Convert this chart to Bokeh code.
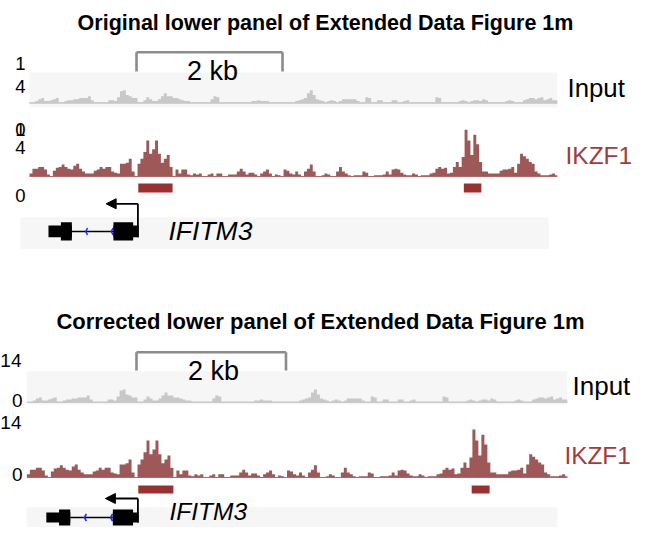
import numpy as np
from bokeh.plotting import figure
from bokeh.models import Range1d, Label, Arrow, NormalHead
from bokeh.embed import file_html
from bokeh.resources import INLINE

# ---------------- data (kb from left edge of the locus) ----------------
BIN_KB = 0.04
LOCUS_KB = 7.23

input_signal = [
    0.3, 0.3, 0.7, 1.3, 1.7, 0.7, 0.7, 1.0, 1.3, 1.7,
    0.3, 0.3, 0.7, 1.0, 1.0, 1.3, 1.3, 1.7, 1.7, 1.7,
    2.3, 1.0, 0.3, 0.3, 0.3, 0.3, 0.3, 1.0, 1.0, 0.7,
    2.0, 4.0, 4.3, 2.7, 2.3, 1.7, 1.7, 0.3, 0.3, 1.0,
    2.0, 1.3, 0.7, 0.7, 1.3, 2.3, 3.3, 2.3, 2.3, 1.7,
    1.7, 1.3, 1.0, 0.7, 0.7, 0.3, 0.3, 0.3, 0.3, 0.3,
    0.3, 0.3, 1.3, 2.3, 2.0, 0.3, 0.3, 0.3, 0.3, 0.3,
    0.3, 0.3, 0.3, 0.3, 0.3, 0.3, 0.7, 0.7, 1.0, 0.7,
    0.7, 0.7, 0.3, 0.3, 0.3, 0.3, 0.3, 0.3, 0.3, 0.3,
    0.3, 0.7, 1.0, 1.3, 1.7, 3.3, 4.3, 2.7, 1.3, 1.0,
    0.7, 0.3, 0.7, 1.0, 0.7, 0.3, 0.7, 1.3, 1.3, 1.3,
    1.3, 1.3, 0.7, 0.3, 0.3, 2.0, 1.7, 0.3, 0.3, 1.0,
    1.0, 0.3, 0.3, 0.3, 1.0, 1.0, 0.3, 0.3, 0.7, 1.0,
    0.3, 0.3, 0.3, 0.3, 0.3, 0.3, 0.3, 0.3, 0.3, 2.0,
    1.7, 0.3, 0.3, 0.3, 0.3, 0.3, 0.3, 0.7, 1.0, 0.7,
    0.3, 0.7, 1.0, 1.0, 0.7, 1.3, 1.0, 0.3, 0.3, 0.3,
    0.3, 0.3, 0.3, 0.7, 1.0, 0.7, 0.3, 0.3, 0.3, 1.0,
    1.3, 1.7, 1.7, 1.3, 1.7, 2.0, 1.0, 1.3, 1.7, 1.0, 1.0,
]

ikzf1_signal = [
    0.8, 2.0, 2.0, 2.5, 2.5, 1.8, 0.5, 0.0, 1.5, 2.3,
    2.5, 3.1, 2.5, 2.0, 1.8, 2.8, 3.3, 2.0, 1.3, 0.8,
    0.8, 0.8, 1.5, 1.8, 2.5, 2.0, 2.5, 2.5, 1.3, 1.0,
    0.8, 3.3, 3.3, 3.6, 4.6, 1.3, 0.0, 3.3, 4.6, 6.4,
    9.4, 5.9, 7.1, 9.4, 5.9, 3.6, 4.6, 5.6, 2.5, 0.0,
    1.8, 0.8, 1.8, 1.8, 0.5, 0.3, 0.8, 0.5, 0.8, 0.0,
    0.0, 0.5, 0.8, 0.0, 0.8, 0.8, 0.0, 0.0, 0.5, 0.5,
    0.5, 1.3, 2.0, 1.3, 0.5, 1.0, 1.0, 0.5, 0.0, 0.8,
    1.3, 1.8, 0.8, 0.0, 0.5, 0.3, 0.0, 1.8, 1.5, 0.8,
    0.5, 1.3, 0.5, 0.0, 1.3, 2.0, 3.1, 1.3, 0.0, 0.0,
    0.3, 0.8, 0.5, 0.0, 0.0, 1.3, 2.5, 1.3, 0.8, 0.3,
    0.0, 0.3, 0.3, 0.3, 1.3, 1.0, 0.0, 0.0, 0.3, 0.3,
    0.3, 0.5, 1.3, 0.5, 1.8, 2.0, 1.8, 1.0, 0.5, 0.3,
    0.3, 0.8, 0.5, 0.0, 0.3, 0.3, 0.3, 0.8, 1.0, 2.0,
    2.5, 2.0, 2.3, 0.8, 1.0, 2.5, 3.8, 2.5, 5.1, 12.2,
    9.4, 5.6, 10.9, 8.4, 3.8, 1.3, 1.3, 0.8, 0.8, 0.8,
    0.8, 1.5, 1.8, 1.8, 2.0, 2.5, 1.0, 3.3, 5.9, 5.3,
    4.6, 3.8, 3.3, 1.3, 0.8, 0.3, 0.3, 0.3, 0.5, 0.8, 0.3,
]

peak_start_kb = [1.49, 5.95]
peak_end_kb = [1.96, 6.19]

# IFITM3 (minus strand)
exon_start_kb = [0.26, 1.15]
exon_end_kb = [0.58, 1.495]
cds_start_kb = 0.43
cds_end_kb = 1.42
tss_kb = 1.485
arrow_tip_kb = 1.05
chevron_kb = [0.77, 1.12]

scalebar_kb = (1.466, 3.466)
scalebar_label = "2 kb"
track_names = ["Input", "IKZF1"]
gene_name = "IFITM3"
panel_titles = ["Original lower panel of Extended Data Figure 1m",
                "Corrected lower panel of Extended Data Figure 1m"]
orig_tick_labels = ["1", "4", "0", "1", "4", "0"]
corr_tick_labels = ["14", "0", "14", "0"]

# ---------------- layout (picture pixels) ----------------
FIG_W, FIG_H = 633, 527
FONT = "Liberation Sans"

panels = [
    dict(title=panel_titles[0], title_x=325, title_y=22, x0=29.0, pxkb=73.0,
         scale_y=51.7, scale_tick=71, kb_label=(212, 70),
         in_bg=(72, 107), in_base=102.7, in_k=3.0,
         ik_base=176.0, ik_k=3.84, peak_y=(183, 192),
         gene_bg_x=(20, 548), gene_bg_y=(217, 248.5),
         exon_y=(221.7, 240), utr_y=(225, 236.7), line_y=231, arrow_y=203.3,
         input_label=(567, 87, 25.8), ik_label=(565, 155, 24.5),
         gene_label=(168, 230, 26.5),
         ticks=orig_tick_labels,
         tick_pos=[(25, 63), (25, 86), (25, 129), (25, 129), (25, 147), (25, 195)],
         tick_fs=18.5, title_fs=21.5),
    dict(title=panel_titles[1], title_x=320, title_y=321, x0=26.4, pxkb=74.75,
         scale_y=351.7, scale_tick=370, kb_label=(213, 370),
         in_bg=(371, 404), in_base=402.0, in_k=3.0,
         ik_base=477.0, ik_k=3.93, peak_y=(485, 493),
         gene_bg_x=(26, 557), gene_bg_y=(507, 528),
         exon_y=(509, 525), utr_y=(512, 522), line_y=517, arrow_y=498,
         input_label=(572, 385, 26.0), ik_label=(564, 455, 24.3),
         gene_label=(169, 511, 24.5),
         ticks=corr_tick_labels, tick_pos=[(21, 360), (22, 400), (21, 422), (22, 474)],
         tick_fs=19, title_fs=22),
]

p = figure(width=FIG_W, height=FIG_H, output_backend="svg", toolbar_location=None,
           x_range=Range1d(0, FIG_W), y_range=Range1d(FIG_H, 0),
           x_axis_type=None, y_axis_type=None, min_border=0)
p.outline_line_color = None
p.grid.visible = False
p.background_fill_color = "white"


def fs(px):
    return f"{px:.1f}px"


def step_xy(vals):
    edges = np.minimum(np.arange(len(vals) + 1) * BIN_KB, LOCUS_KB)
    xs, ys = [0.0], [0.0]
    for i, v in enumerate(vals):
        xs += [edges[i], edges[i + 1]]
        ys += [v, v]
    xs.append(edges[-1])
    ys.append(0.0)
    return xs, ys


def label(x, y, text, size, align="left", color="black", style="normal"):
    p.add_layout(Label(x=x, y=y, text=text, text_align=align, text_baseline="middle",
                       text_font=FONT, text_font_style=style, text_font_size=fs(size),
                       text_color=color))


for n, P in enumerate(panels):
    xr = f"kb{n}"
    p.extra_x_ranges[xr] = Range1d(-P["x0"] / P["pxkb"], (FIG_W - P["x0"]) / P["pxkb"])
    yin, yik = f"in{n}", f"ik{n}"
    p.extra_y_ranges[yin] = Range1d((P["in_base"] - FIG_H) / P["in_k"], P["in_base"] / P["in_k"])
    p.extra_y_ranges[yik] = Range1d((P["ik_base"] - FIG_H) / P["ik_k"], P["ik_base"] / P["ik_k"])

    # title
    label(P["title_x"], P["title_y"], P["title"], P["title_fs"], align="center", style="bold")

    # scale bar
    sx0, sx1 = scalebar_kb
    p.segment(x0=[sx0, sx0, sx1], y0=[P["scale_y"]] * 3, x1=[sx1, sx0, sx1],
              y1=[P["scale_y"], P["scale_tick"], P["scale_tick"]],
              line_color="#8c8c8c", line_width=2.6, x_range_name=xr)

    # input track
    p.quad(left=[0], right=[LOCUS_KB], top=[P["in_bg"][0]], bottom=[P["in_bg"][1]],
           fill_color="#f6f6f6", line_color=None, x_range_name=xr)
    xs, ys = step_xy(input_signal)
    p.patch(xs, ys, fill_color="#c8c8c8", line_color=None, x_range_name=xr, y_range_name=yin)
    p.line([0, LOCUS_KB], [0, 0], line_color="#c8c8c8", line_width=1.2,
           x_range_name=xr, y_range_name=yin)

    label(P["kb_label"][0], P["kb_label"][1], scalebar_label, 27, align="center")

    # IKZF1 track
    xs, ys = step_xy(ikzf1_signal)
    p.patch(xs, ys, fill_color="#9e5858", line_color=None, x_range_name=xr, y_range_name=yik)
    p.line([0, LOCUS_KB], [0, 0], line_color="#a66a6a", line_width=1.2,
           x_range_name=xr, y_range_name=yik)

    # peaks
    p.quad(left=peak_start_kb, right=peak_end_kb, top=[P["peak_y"][0]] * 2,
           bottom=[P["peak_y"][1]] * 2, fill_color="#9a3030", line_color=None, x_range_name=xr)

    # track labels
    ix, iy, isz = P["input_label"]
    label(ix, iy, track_names[0], isz)
    kx, ky, ksz = P["ik_label"]
    label(kx, ky, track_names[1], ksz, color="#a23c3c")

    # y tick labels
    for t, (tx, ty) in zip(P["ticks"], P["tick_pos"]):
        label(tx, ty, t, P["tick_fs"], align="right")

    # gene track
    gx0, gx1 = P["gene_bg_x"]
    gy0, gy1 = P["gene_bg_y"]
    p.quad(left=[gx0], right=[gx1], top=[gy0], bottom=[gy1], fill_color="#f6f6f6", line_color=None)
    p.line([exon_end_kb[0], exon_start_kb[1]], [P["line_y"]] * 2, line_color="black",
           line_width=1.4, x_range_name=xr)
    # chevrons (minus strand)
    cw = 0.025
    p.multi_line(xs=[[c + cw, c, c + cw] for c in chevron_kb],
                 ys=[[P["line_y"] - 3.5, P["line_y"], P["line_y"] + 3.5] for _ in chevron_kb],
                 line_color="#2a2aff", line_width=1.6, x_range_name=xr)
    # UTR (thin) exon parts
    p.quad(left=exon_start_kb, right=exon_end_kb, top=[P["utr_y"][0]] * 2,
           bottom=[P["utr_y"][1]] * 2, fill_color="black", line_color=None, x_range_name=xr)
    # coding parts
    cl = [max(a, cds_start_kb) for a in exon_start_kb]
    cr = [min(b, cds_end_kb) for b in exon_end_kb]
    p.quad(left=cl, right=cr, top=[P["exon_y"][0]] * 2, bottom=[P["exon_y"][1]] * 2,
           fill_color="black", line_color=None, x_range_name=xr)
    # TSS arrow
    p.segment(x0=[tss_kb], y0=[P["utr_y"][1]], x1=[tss_kb], y1=[P["arrow_y"]],
              line_color="black", line_width=1.8, x_range_name=xr)
    p.add_layout(Arrow(end=NormalHead(size=10, fill_color="black", line_color="black"),
                       x_start=tss_kb, y_start=P["arrow_y"], x_end=arrow_tip_kb, y_end=P["arrow_y"],
                       line_color="black", line_width=1.8, x_range_name=xr))
    gx, gy, gsz = P["gene_label"]
    label(gx, gy, gene_name, gsz, style="italic")

open("out.html", "w").write(file_html(p, INLINE))
